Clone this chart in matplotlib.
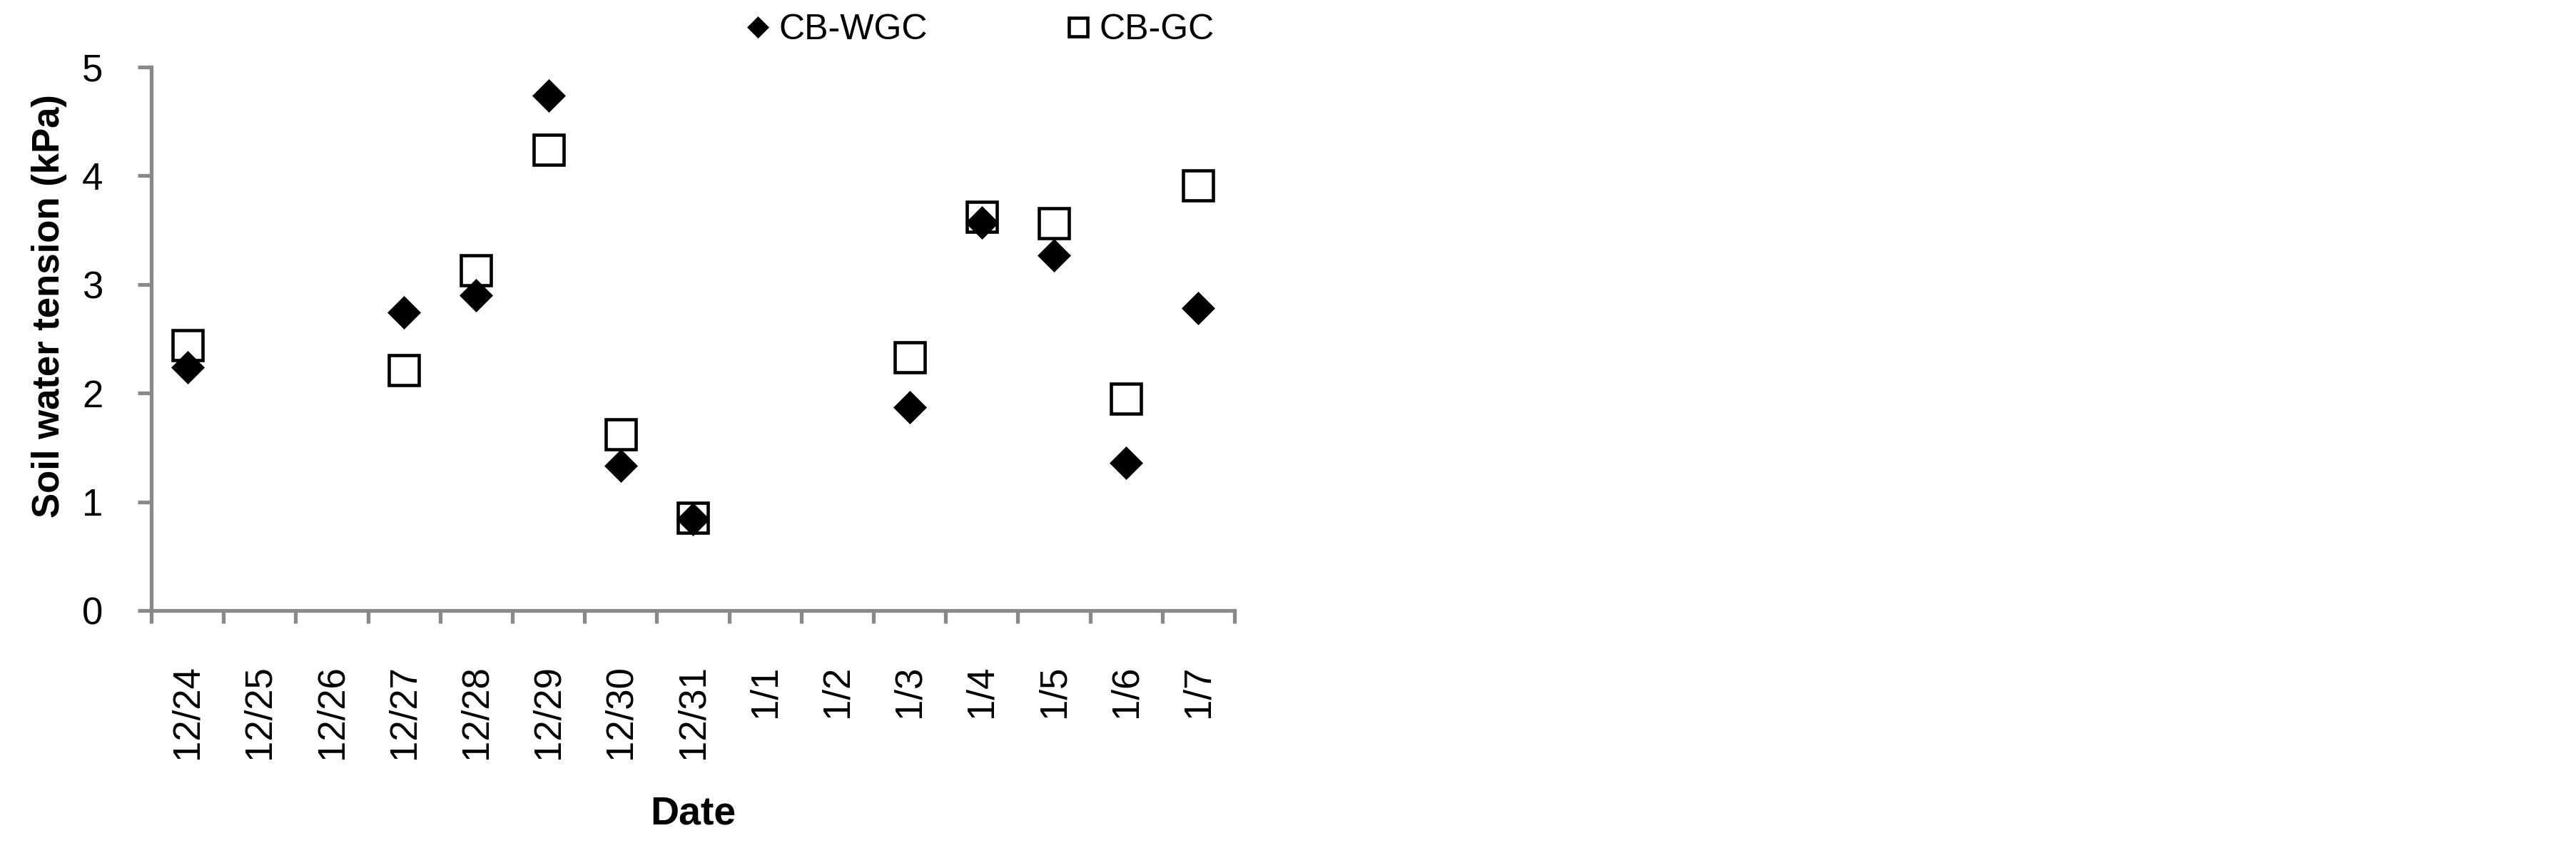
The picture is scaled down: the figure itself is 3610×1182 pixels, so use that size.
import numpy as np
import matplotlib
matplotlib.use("Agg")
import matplotlib.pyplot as plt

plt.rcParams['font.family'] = ['Liberation Sans', 'DejaVu Sans']

# dates on the category axis
dates = ["12/24", "12/25", "12/26", "12/27", "12/28", "12/29", "12/30", "12/31",
         "1/1", "1/2", "1/3", "1/4", "1/5", "1/6", "1/7"]

# soil water tension (kPa), nan = no reading
cb_wgc = [2.24, np.nan, np.nan, 2.74, 2.90, 4.74, 1.33, 0.84,
          np.nan, np.nan, 1.87, 3.57, 3.27, 1.36, 2.78]
cb_gc = [2.44, np.nan, np.nan, 2.21, 3.13, 4.24, 1.62, 0.85,
         np.nan, np.nan, 2.33, 3.62, 3.56, 1.95, 3.91]

y_ticks = [0, 1, 2, 3, 4, 5]

AXIS_GREY = "#898989"

fig = plt.figure(figsize=(36.1, 11.82), dpi=100, facecolor="white")
ax = fig.add_axes([212 / 3610, 1 - 856 / 1182, 1518 / 3610, 762 / 1182])

x = np.arange(len(dates))

gc_line, = ax.plot(x, cb_gc, linestyle="none", marker="s", markersize=29.8,
                   markerfacecolor="white", markeredgecolor="black",
                   markeredgewidth=3.3, label="CB-GC", zorder=3)
wgc_line, = ax.plot(x, cb_wgc, linestyle="none", marker="D", markersize=23,
                    markerfacecolor="black", markeredgecolor="black",
                    markeredgewidth=0.5, label="CB-WGC", zorder=4)

ax.set_xlim(-0.5, len(dates) - 0.5)
ax.set_ylim(0, 5)

# category boundaries get the tick marks, centres get the labels
ax.set_xticks(np.arange(len(dates) + 1) - 0.5)
ax.set_xticklabels([])
ax.set_xticks(x, minor=True)
ax.set_xticklabels(dates, minor=True, rotation=90, fontsize=38)
ax.tick_params(axis="x", which="major", direction="out", length=13,
               width=3.8, color=AXIS_GREY)
ax.tick_params(axis="x", which="minor", length=0, pad=55)

ax.set_yticks(y_ticks)
ax.set_yticklabels([str(v) for v in y_ticks], fontsize=38)
ax.tick_params(axis="y", direction="out", length=13.7, width=3.8,
               color=AXIS_GREY, pad=35)

for side in ["top", "right"]:
    ax.spines[side].set_visible(False)
for side in ["left", "bottom"]:
    ax.spines[side].set_color(AXIS_GREY)
    ax.spines[side].set_linewidth(3.8)

ax.set_ylabel("Soil water tension (kPa)", fontsize=38, fontweight="bold")
ax.yaxis.set_label_coords(-0.078, 0.56)
ax.set_xlabel("Date", fontsize=40, fontweight="bold")
ax.xaxis.set_label_coords(0.5, -0.34)

fig.legend(handles=[wgc_line, gc_line], labels=["CB-WGC", "CB-GC"],
           loc="center left", bbox_to_anchor=(1042 / 3610, 1 - 42 / 1182),
           ncol=2, frameon=False, fontsize=36, markerscale=0.65,
           handlelength=0.8, handletextpad=0.2, columnspacing=3.8,
           borderpad=0, borderaxespad=0)

fig.savefig("out.png", dpi=100, facecolor="white")
